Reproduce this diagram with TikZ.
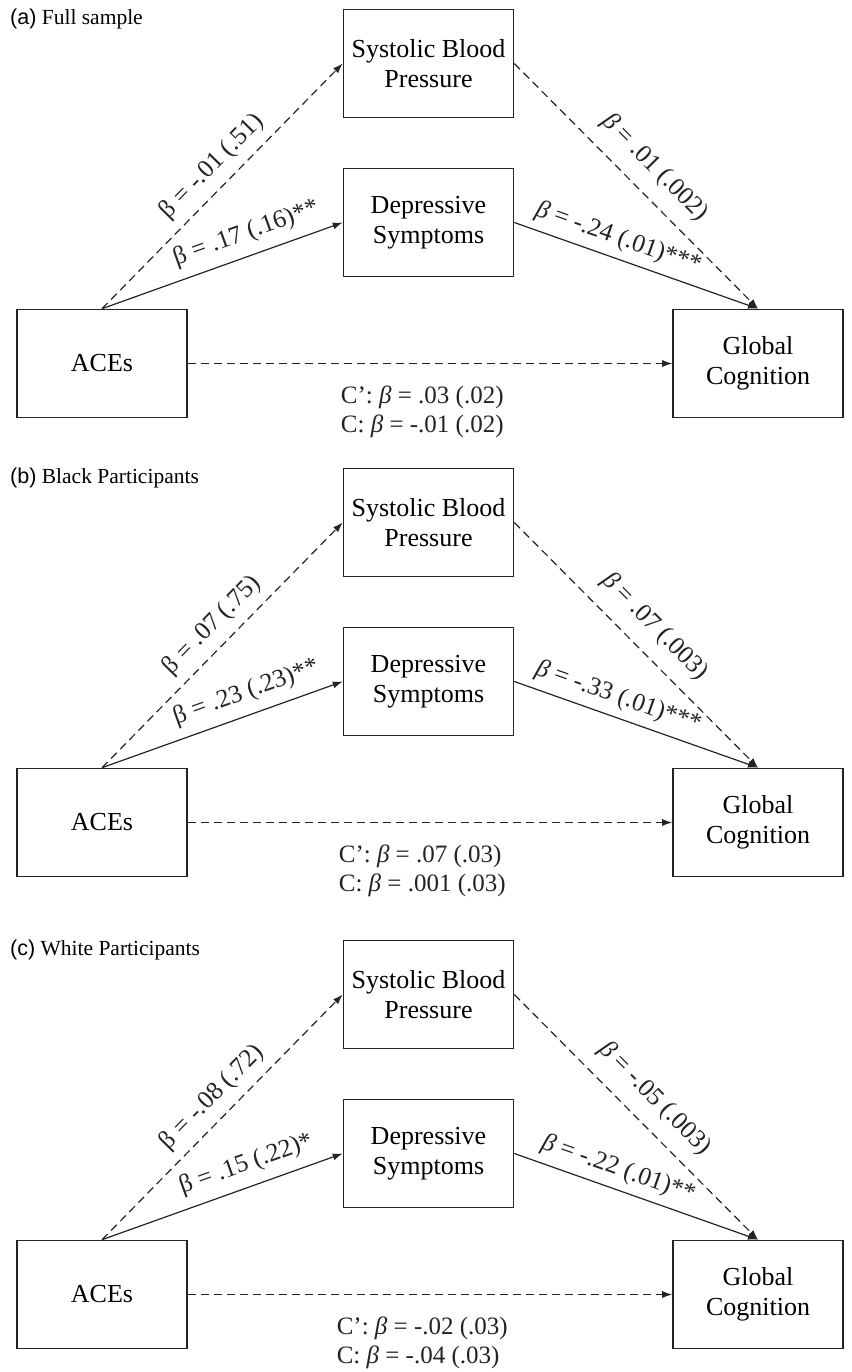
\documentclass[tikz,border=0pt]{standalone}
\usepackage{fontspec}
\setmainfont{Liberation Serif}
\newfontfamily\tagfont{Liberation Sans}
\usetikzlibrary{arrows.meta,positioning}
\definecolor{boxline}{RGB}{35,35,35}
\newcommand{\bet}{\textit{β}}
\tikzset{
  varbox/.style={draw=boxline, line width=1.6pt, minimum width=170pt, minimum height=108pt,
                 align=center, font=\fontsize{26}{29.5}\selectfont},
  patharr/.style={-{Latex[length=10pt,width=7pt]}, line width=1.2pt, boxline},
  dasharr/.style={patharr, dash pattern=on 8pt off 5pt},
  coef/.style={sloped, inner sep=3pt, font=\fontsize{25.5}{29}\selectfont},
  ctot/.style={align=left, inner sep=2pt, font=\fontsize{25}{29}\selectfont},
  ptag/.style={anchor=west, inner sep=0pt, font=\fontsize{21.5}{25}\selectfont},
}
\begin{document}
\begin{tikzpicture}[x=1pt,y=1pt]
  \useasboundingbox (0,0) rectangle (851,-1372);
  % (a) full sample
  \node[ptag] (tagA) at (10,-19) {{\tagfont (a)} Full sample};
  \node[varbox] (sbpA) at (428.5,-63.5) {Systolic Blood\\Pressure};
  \node[varbox] (depA) at (428.5,-222.5) {Depressive\\Symptoms};
  \node[varbox] (aceA) at (102,-363.5) {ACEs};
  \node[varbox] (gcA) at (758,-363.5) {Global\\Cognition};
  \draw[dasharr] (aceA.north) -- node[coef, above=6pt, pos=0.52] {β = -.01 (.51)} (sbpA.west);
  \draw[patharr] (aceA.north) -- node[coef, above=7pt, pos=0.63] {β = .17 (.16)**} (depA.west);
  \draw[dasharr] (sbpA.east) -- node[coef, above=11pt, pos=0.5] {\bet{} = .01 (.002)} (gcA.north);
  \draw[patharr] (depA.east) -- node[coef, above=4.5pt, pos=0.4] {\bet{} = -.24 (.01)***} (gcA.north);
  \draw[dasharr] (aceA) -- node[ctot, below=20pt, pos=0.484] {C’: \bet{} = .03 (.02)\\C: \bet{} = -.01 (.02)} (gcA);

  % (b) black participants
  \begin{scope}[yshift=-459pt]
    \node[ptag] (tagB) at (10,-19) {{\tagfont (b)} Black Participants};
    \node[varbox] (sbpB) at (428.5,-63.5) {Systolic Blood\\Pressure};
    \node[varbox] (depB) at (428.5,-222.5) {Depressive\\Symptoms};
    \node[varbox] (aceB) at (102,-363.5) {ACEs};
    \node[varbox] (gcB) at (758,-363.5) {Global\\Cognition};
    \draw[dasharr] (aceB.north) -- node[coef, above=6pt, pos=0.52] {β = .07 (.75)} (sbpB.west);
    \draw[patharr] (aceB.north) -- node[coef, above=7pt, pos=0.63] {β = .23 (.23)**} (depB.west);
    \draw[dasharr] (sbpB.east) -- node[coef, above=11pt, pos=0.5] {\bet{} = .07 (.003)} (gcB.north);
    \draw[patharr] (depB.east) -- node[coef, above=4.5pt, pos=0.4] {\bet{} = -.33 (.01)***} (gcB.north);
    \draw[dasharr] (aceB) -- node[ctot, below=20pt, pos=0.484] {C’: \bet{} = .07 (.03)\\C: \bet{} = .001 (.03)} (gcB);
  \end{scope}

  % (c) white participants
  \begin{scope}[yshift=-931pt]
    \node[ptag] (tagC) at (10,-19) {{\tagfont (c)} White Participants};
    \node[varbox] (sbpC) at (428.5,-63.5) {Systolic Blood\\Pressure};
    \node[varbox] (depC) at (428.5,-222.5) {Depressive\\Symptoms};
    \node[varbox] (aceC) at (102,-363.5) {ACEs};
    \node[varbox] (gcC) at (758,-363.5) {Global\\Cognition};
    \draw[dasharr] (aceC.north) -- node[coef, above=6pt, pos=0.52] {β = -.08 (.72)} (sbpC.west);
    \draw[patharr] (aceC.north) -- node[coef, above=7pt, pos=0.63] {β = .15 (.22)*} (depC.west);
    \draw[dasharr] (sbpC.east) -- node[coef, above=11pt, pos=0.5] {\bet{} = -.05 (.003)} (gcC.north);
    \draw[patharr] (depC.east) -- node[coef, above=4.5pt, pos=0.4] {\bet{} = -.22 (.01)**} (gcC.north);
    \draw[dasharr] (aceC) -- node[ctot, below=20pt, pos=0.484] {C’: \bet{} = -.02 (.03)\\C: \bet{} = -.04 (.03)} (gcC);
  \end{scope}
\end{tikzpicture}
\end{document}
